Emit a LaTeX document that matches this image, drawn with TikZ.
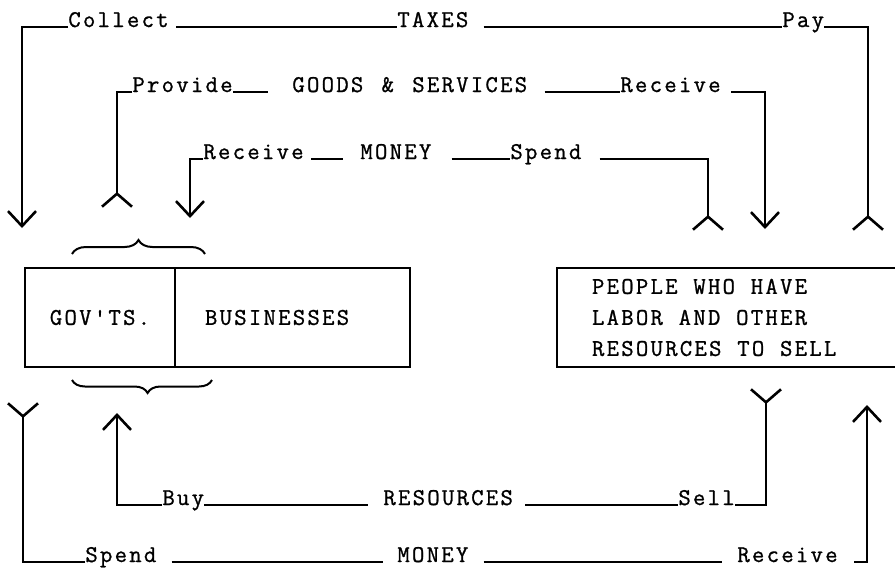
\documentclass[tikz,border=0pt]{standalone}
\usepackage{fontspec}
\setmonofont{Latin Modern Mono}[LetterSpace=9.5, WordSpace=1.25, FakeBold=1]
\usepackage{tikz}
\usetikzlibrary{arrows.meta,positioning,calc,decorations.pathreplacing}
\newcommand\boxspace{\spaceskip=7.9pt\relax}
\tikzset{
  lbl/.style    = {font=\ttfamily\fontsize{12}{15.5}\selectfont,
                   inner sep=0pt, anchor=base west},
  box/.style    = {rectangle, draw=black, line width=1.2pt, inner ysep=0pt,
                   outer sep=0pt, minimum height=49.5pt,
                   font=\ttfamily\fontsize{12}{15.5}\selectfont},
  flow/.style   = {draw=black, line width=1.3pt},
  headv/.style  = {-{Straight Barb[length=7.5pt,width=14pt]}},
  tailv/.style  = {-{Straight Barb[reversed,length=6.5pt,width=15pt]}},
  brc/.style    = {decorate, decoration={brace, amplitude=7pt}, line width=1pt},
}

\begin{document}
\begin{tikzpicture}[x=0.5pt, y=-0.5pt]

\path[use as bounding box, fill=white] (0,0) rectangle (895,569);

%% Boxes
\node[box, minimum width=75pt, anchor=north west] (gov) at (25,268) {GOV'TS.};
\node[box, anchor=north west, text width=87.5pt, align=left, inner xsep=15pt]
  (bus) at (gov.north east) {BUSINESSES};
\node[box, anchor=north west, text width=136pt, align=left, inner xsep=17.5pt]
  (people) at (557,268)
  {\boxspace PEOPLE WHO HAVE\\LABOR AND OTHER\\RESOURCES TO SELL};

%% Braces round GOV'TS.
\draw[brc] (72,254) -- (205,254);
\draw[brc, decoration={mirror, amplitude=6.5pt, aspect=0.54}] (72,380) -- (212,380);

%% Loop 1: TAXES
\node[lbl] (collect) at (68,27)  {Collect};
\node[lbl] (taxes)   at (397,27) {TAXES};
\node[lbl] (pay)     at (782,27) {Pay};
\coordinate (tx_l)  at (22,27);
\coordinate (tx_le) at (22,228);
\coordinate (tx_r)  at (868,27);
\coordinate (tx_re) at (868,231);

\draw[flow, headv] (collect.base west) -- (tx_l) -- (tx_le);
\draw[flow] ([xshift=3.5pt]collect.base east) -- (taxes.base west);
\draw[flow] ([xshift=7.5pt]taxes.base east) -- (pay.base west);
\draw[flow, tailv] (pay.base east) -- (tx_r) -- (tx_re);

%% Loop 2: GOODS & SERVICES
\node[lbl] (provide)  at (132,92) {Provide};
\node[lbl] (goods)    at (292,92) {GOODS \& SERVICES};
\node[lbl] (receive1) at (620,92) {Receive};
\coordinate (gs_l)  at (117,92);
\coordinate (gs_le) at (117,208);
\coordinate (gs_r)  at (765,92);
\coordinate (gs_re) at (765,229);

\draw[flow, tailv] (provide.base west) -- (gs_l) -- (gs_le);
\draw[flow] (provide.base east) -- ([xshift=-12pt]goods.base west);
\draw[flow] ([xshift=8.5pt]goods.base east) -- (receive1.base west);
\draw[flow, headv] ([xshift=5pt]receive1.base east) -- (gs_r) -- (gs_re);

%% Loop 3: MONEY (top)
\node[lbl] (receive2) at (203,159) {Receive};
\node[lbl] (money1)   at (360,159) {MONEY};
\node[lbl] (spend1)   at (510,159) {Spend};
\coordinate (mt_l)  at (190,159);
\coordinate (mt_le) at (190,218);
\coordinate (mt_r)  at (708,159);
\coordinate (mt_re) at (708,231);

\draw[flow, headv] (receive2.base west) -- (mt_l) -- (mt_le);
\draw[flow] ([xshift=3.5pt]receive2.base east) -- ([xshift=-8.5pt]money1.base west);
\draw[flow] ([xshift=10pt]money1.base east) -- (spend1.base west);
\draw[flow, tailv] ([xshift=9pt]spend1.base east) -- (mt_r) -- (mt_re);

%% Loop 4: RESOURCES
\node[lbl] (buy)       at (162,505) {Buy};
\node[lbl] (resources) at (383,505) {RESOURCES};
\node[lbl] (sell)      at (678,505) {Sell};
\coordinate (rs_l)  at (117,505);
\coordinate (rs_le) at (117,413);
\coordinate (rs_r)  at (766,505);
\coordinate (rs_re) at (766,388);

\draw[flow, headv] (buy.base west) -- (rs_l) -- (rs_le);
\draw[flow] (buy.base east) -- ([xshift=-7.5pt]resources.base west);
\draw[flow] ([xshift=6pt]resources.base east) -- (sell.base west);
\draw[flow, tailv] (sell.base east) -- (rs_r) -- (rs_re);

%% Loop 5: MONEY (bottom)
\node[lbl] (spend2)   at (85,562)  {Spend};
\node[lbl] (money2)   at (397,562) {MONEY};
\node[lbl] (receive3) at (737,562) {Receive};
\coordinate (mb_l)  at (23,562);
\coordinate (mb_le) at (23,402);
\coordinate (mb_r)  at (867,562);
\coordinate (mb_re) at (867,405);

\draw[flow, tailv] (spend2.base west) -- (mb_l) -- (mb_le);
\draw[flow] ([xshift=7.5pt]spend2.base east) -- ([xshift=-7pt]money2.base west);
\draw[flow] ([xshift=7.5pt]money2.base east) -- ([xshift=-7.5pt]receive3.base west);
\draw[flow, headv] ([xshift=8pt]receive3.base east) -- (mb_r) -- (mb_re);

\end{tikzpicture}
\end{document}
